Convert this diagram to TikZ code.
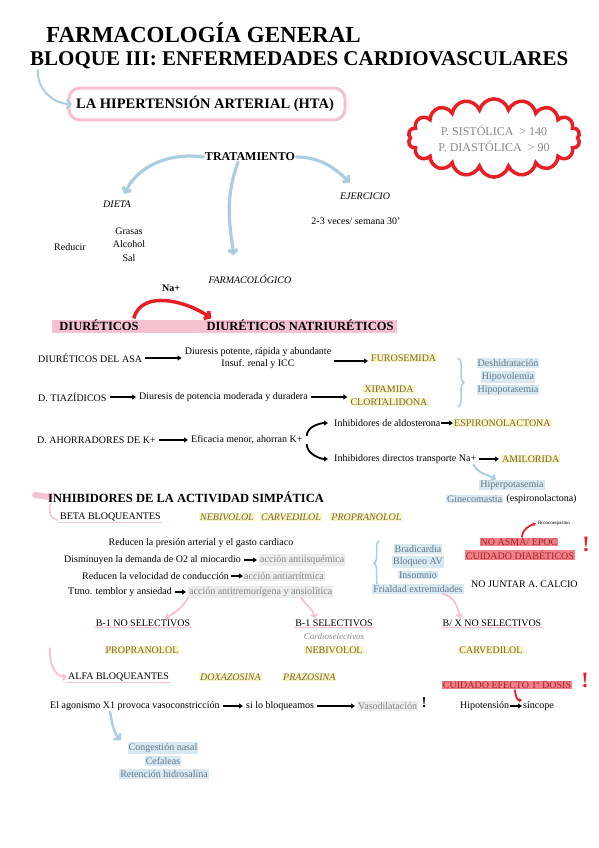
\documentclass[tikz,border=0pt]{standalone}
\usepackage{fontspec}
\setmainfont{Liberation Serif}
\usetikzlibrary{arrows.meta, positioning, calc, shapes.symbols, decorations.pathreplacing, backgrounds}

\definecolor{skyarrow}{RGB}{170,206,222}
\definecolor{pinkmark}{RGB}{246,194,210}
\definecolor{redmark}{RGB}{232,32,38}
\definecolor{yelhl}{RGB}{249,243,198}
\definecolor{drugtxt}{RGB}{115,105,55}
\definecolor{bluehl}{RGB}{216,233,241}
\definecolor{bluetxt}{RGB}{95,120,140}
\definecolor{grayhl}{RGB}{236,236,236}
\definecolor{graytxt}{RGB}{135,135,135}
\definecolor{redhl}{RGB}{238,128,135}
\definecolor{redtxt}{RGB}{170,35,45}

\begin{document}
\begin{tikzpicture}[x=1pt, y=1pt,
    txt/.style={font=\fontsize{10}{13}\selectfont, inner sep=1pt},
    sub/.style={txt, font=\itshape\fontsize{10}{13}\selectfont},
    head/.style={font=\bfseries\fontsize{12.5}{14}\selectfont, inner sep=1pt},
    title/.style={font=\bfseries\fontsize{21}{23}\selectfont, inner sep=1pt},
    drug/.style={txt, fill=yelhl, text=drugtxt},
    drugit/.style={drug, font=\itshape\fontsize{10}{13}\selectfont},
    sidefx/.style={txt, fill=bluehl, text=bluetxt},
    action/.style={txt, fill=grayhl, text=graytxt},
    alert/.style={txt, fill=redhl, text=redtxt},
    bang/.style={text=redmark, font=\bfseries\fontsize{22}{22}\selectfont, inner sep=0pt},
    blk/.style={-{Triangle[length=4pt,width=5pt]}, line width=1.8pt, shorten <=2pt, shorten >=2pt},
    sky/.style={skyarrow, line width=3.2pt, line cap=round, -{Straight Barb[length=4pt,width=9pt]}},
    redarr/.style={redmark, line width=1.8pt, -{Triangle[length=3pt,width=4pt]}},
    pinkarr/.style={pinkmark, line width=1.8pt, line cap=round, -{Straight Barb[length=3pt,width=6pt]}},
    uline/.style={pinkmark, line width=1.5pt, line cap=round}]
  \useasboundingbox (0,0) rectangle (599,-848);

  % Title
  \node[title, anchor=west, font=\bfseries\fontsize{23}{25}\selectfont] (title1) at (45,-33) {FARMACOLOGÍA GENERAL};
  \node[title, anchor=west] (title2) at (29,-60) {BLOQUE III: ENFERMEDADES CARDIOVASCULARES};
  \node[head, font=\bfseries\fontsize{14.5}{16}\selectfont] (hta) at (205,-104) {LA HIPERTENSIÓN ARTERIAL (HTA)};
  \draw[sky, line width=2pt] ([xshift=9pt]title2.south west) to[out=-95,in=180] ([xshift=-3pt]hta.west);
  \begin{scope}[on background layer]
    \draw[pinkmark, line width=3pt, rounded corners=11pt] ($(hta.south west)+(-6,-7)$) rectangle ($(hta.north east)+(10,7)$);
  \end{scope}

  % Pressure cloud
  \node[cloud, draw=redmark, line width=3.5pt, cloud puffs=18, aspect=2.7, inner sep=0pt,
        minimum width=172pt, minimum height=70pt, text=graytxt, align=center,
        font=\fontsize{12}{16}\selectfont] (press) at (494,-138) {P. SISTÓLICA \ > 140\\P. DIASTÓLICA \ > 90};

  % Treatment
  \node[head, font=\bfseries\fontsize{12}{14}\selectfont] (trat) at (250,-157) {TRATAMIENTO};
  \node[sub] (dieta) at (117,-204) {DIETA};
  \node[txt, align=center, font=\fontsize{10}{13.5}\selectfont] (foods) at (129,-244.5) {Grasas\\Alcohol\\Sal};
  \node[txt, anchor=east] (reduc) at (87,-247) {Reducir};
  \node[sub] (ejer) at (365,-196) {EJERCICIO};
  \node[txt] (veces) at (356,-221) {2-3 veces/ semana 30'};
  \node[sub] (farm) at (250,-279) {FARMACOLÓGICO};
  \draw[sky, shorten >=6pt] (trat.west) to[out=172,in=65] ([xshift=5pt]dieta.north);
  \draw[sky, shorten >=18pt] ([xshift=-12pt]trat.south) to[out=-110,in=95] ([xshift=-15pt]farm.north);
  \draw[sky, shorten >=14pt] (trat.east) to[out=0,in=140] ([xshift=-4pt]ejer.north);

  % Diuretics
  \node[head, font=\bfseries\fontsize{10}{12}\selectfont] (nap) at (171,-288) {Na+};
  \node[head] (diur) at (99,-325) {DIURÉTICOS};
  \node[head] (natr) at (300,-325) {DIURÉTICOS NATRIURÉTICOS};
  \begin{scope}[on background layer]
    \fill[pinkmark] ([xshift=-6pt,yshift=-1pt]diur.south west) rectangle ([xshift=2pt,yshift=-2pt]natr.north east);
  \end{scope}
  \draw[redmark, line width=3.5pt, -{Straight Barb[length=4pt,width=9pt]}] ([xshift=-6pt]diur.north east) to[out=75,in=145] ([xshift=6pt]natr.north west);

  \node[txt, anchor=west] (asa) at (37,-358) {DIURÉTICOS DEL ASA};
  \node[txt, align=center, font=\fontsize{10}{12}\selectfont] (asad) at (258,-358) {Diuresis potente, rápida y abundante\\Insuf. renal y ICC};
  \node[drug, anchor=west] (furo) at (370,-358) {FUROSEMIDA};
  \draw[blk] (asa.east) -- (asa.east -| asad.west);
  \draw[blk] ([yshift=-3pt]asad.east) -- ([yshift=-3pt]asad.east -| furo.west);

  \node[txt, anchor=west] (tiaz) at (37,-397) {D. TIAZÍDICOS};
  \node[txt, anchor=west] (tiazd) at (138,-397) {Diuresis de potencia moderada y duradera};
  \node[drug] (xipa) at (389,-389) {XIPAMIDA};
  \node[drug] (clorta) at (389,-402) {CLORTALIDONA};
  \draw[blk] (tiaz) -- (tiazd);
  \draw[blk] (tiazd.east) -- (tiazd.east -| clorta.west);

  \draw[skyarrow, line width=1.5pt, decorate, decoration={brace, amplitude=6pt}] (458,-358) -- (458,-407);
  \node[sidefx] (deshid) at (508,-363) {Deshidratación};
  \node[sidefx] (hipovol) at (508,-377) {Hipovolemia};
  \node[sidefx] (hipopot) at (508,-390) {Hipopotasemia};

  \node[txt, anchor=west] (ahorr) at (36,-440) {D. AHORRADORES DE K+};
  \node[txt, anchor=west] (efic) at (190,-440) {Eficacia menor, ahorran K+};
  \node[txt, anchor=west] (aldo) at (333,-423) {Inhibidores de aldosterona};
  \node[drug, anchor=west] (espiro) at (453,-423) {ESPIRONOLACTONA};
  \node[txt, anchor=west] (dirna) at (333,-459) {Inhibidores directos transporte Na+};
  \node[drug, anchor=west] (amilo) at (501,-459) {AMILORIDA};
  \draw[blk] (ahorr) -- (efic);
  \draw[blk, shorten <=0pt, shorten >=0pt] (aldo) -- (espiro);
  \draw[blk] (dirna) -- (amilo);
  \draw[blk, shorten >=5pt] ([xshift=3pt,yshift=2pt]efic.east) to[out=90,in=180] (aldo.west);
  \draw[blk, shorten >=5pt] ([xshift=3pt,yshift=-2pt]efic.east) to[out=-90,in=180] (dirna.west);

  \node[sidefx] (hiperk) at (512,-485) {Hiperpotasemia};
  \node[sidefx, anchor=west] (gineco) at (446,-499) {Ginecomastia};
  \node[txt, right=2pt of gineco] (espiro2) {(espironolactona)};
  \draw[sky, line width=2pt, -{Straight Barb[length=3pt,width=6pt]}] ([xshift=-4pt]dirna.south east) to[out=-60,in=150] ([xshift=-16pt]hiperk.north);

  % Sympathetic inhibitors
  \node[head, anchor=west] (inhib) at (47,-497) {INHIBIDORES DE LA ACTIVIDAD SIMPÁTICA};
  \begin{scope}[on background layer]
    \draw[pinkmark, line width=6pt, line cap=round] ([xshift=-12pt,yshift=2pt]inhib.west) -- ([xshift=3pt]inhib.west);
  \end{scope}
  \node[txt, anchor=west] (beta) at (59,-517) {BETA BLOQUEANTES};
  \draw[uline] ([xshift=4pt]inhib.south west) to[out=-120,in=175] ([xshift=-2pt,yshift=-3pt]beta.west);
  \node[drugit, anchor=west] (nebi) at (199,-517) {NEBIVOLOL};
  \node[drugit, right=5pt of nebi] (carve) {CARVEDILOL};
  \node[drugit, right=8pt of carve] (propra) {PROPRANOLOL};

  \node[txt] (redpa) at (201,-543) {Reducen la presión arterial y el gasto cardiaco};
  \node[txt, anchor=east] (oxig) at (242,-560) {Disminuyen la demanda de O2 al miocardio};
  \node[action, anchor=west] (antiisq) at (259,-560) {acción antiisquémica};
  \node[txt, anchor=east] (veloc) at (230,-576) {Reducen la velocidad de conducción};
  \node[action, anchor=west] (antiarr) at (243,-576) {acción antiarrítmica};
  \node[txt, anchor=east] (ttmo) at (173,-592) {Ttmo. temblor y ansiedad};
  \node[action, anchor=west] (antitrem) at (188,-592) {acción antitremorígena y ansiolítica};
  \draw[blk] (oxig) -- (antiisq);
  \draw[blk, shorten <=1pt, shorten >=0pt] (veloc) -- (antiarr);
  \draw[blk] (ttmo) -- (antitrem);

  \draw[skyarrow, line width=1.5pt, decorate, decoration={brace, amplitude=5pt}] (379,-586) -- (379,-541);
  \node[sidefx] (bradi) at (418,-549) {Bradicardia};
  \node[sidefx] (bloqav) at (418,-562) {Bloqueo AV};
  \node[sidefx] (insom) at (418,-575) {Insomnio};
  \node[sidefx] (frial) at (418,-589) {Frialdad extremidades};
  \node[txt, anchor=west] (nojunt) at (470,-584) {NO JUNTAR A. CALCIO};

  \node[alert] (noasma) at (519,-542) {NO ASMA/ EPOC};
  \node[alert] (diab) at (520,-555) {CUIDADO DIABÉTICOS};
  \node[txt, font=\fontsize{5}{6}\selectfont] (bronco) at (554,-523) {Broncoespasmo};
  \node[bang] (bang1) at (586,-544) {!};
  \draw[redarr, shorten >=1pt] ([xshift=3pt]noasma.north) to[out=90,in=200] (bronco.west);

  % Beta subtypes
  \node[txt] (b1no) at (143,-623) {B-1 NO SELECTIVOS};
  \node[txt] (b1sel) at (334,-623) {B-1 SELECTIVOS};
  \node[sub, text=graytxt, font=\itshape\fontsize{9}{11}\selectfont] (cardsel) at (334,-636) {Cardioselectivos};
  \node[txt] (bxno) at (492,-623) {B/ X NO SELECTIVOS};
  \node[drug] (propra2) at (142,-650) {PROPRANOLOL};
  \node[drug] (nebi2) at (334,-650) {NEBIVOLOL};
  \node[drug] (carve2) at (491,-650) {CARVEDILOL};
  \draw[pinkarr] (antitrem.south west) to[out=-120,in=30] ([xshift=22pt]b1no.north);
  \draw[pinkarr] ([xshift=-32pt]antitrem.south east) to[out=-60,in=100] ([xshift=-19pt]b1sel.north);
  \draw[pinkarr] ([xshift=24pt]frial.south) to[out=-10,in=100] ([xshift=-32pt]bxno.north);

  % Alpha blockers
  \coordinate (alfastart) at (50,-648);
  \node[txt, anchor=west] (alfa) at (67,-677) {ALFA BLOQUEANTES};
  \node[drugit, anchor=west] (doxa) at (199,-677) {DOXAZOSINA};
  \node[drugit, anchor=west] (prazo) at (282,-677) {PRAZOSINA};
  \draw[pinkarr] (alfastart) to[out=-95,in=180] (alfa.west);
  \foreach \n in {beta, b1no, b1sel, bxno, alfa}
    \draw[uline] (\n.south west) -- (\n.south east);

  \node[alert] (efecto) at (507,-685) {CUIDADO EFECTO 1º DOSIS};
  \node[bang] (bang2) at (585,-680) {!};
  \node[txt, anchor=west] (hipot) at (459,-706) {Hipotensión};
  \node[txt, anchor=west] (sincope) at (522,-706) {síncope};
  \draw[blk, shorten <=0pt, shorten >=0pt] (hipot) -- (sincope);
  \draw[redarr] ([xshift=8pt]efecto.south) to[out=-90,in=180] (sincope.north west);

  \node[txt, anchor=west] (agon) at (49,-706) {El agonismo X1 provoca vasoconstricción};
  \node[txt, anchor=west] (bloq) at (245,-706) {si lo bloqueamos};
  \node[action, anchor=west] (vasod) at (357,-706) {Vasodilatación};
  \node[bang, text=black, font=\bfseries\fontsize{15}{15}\selectfont] (bang3) at (424,-703) {!};
  \draw[blk] (agon) -- (bloq);
  \draw[blk] (bloq) -- (vasod);

  \node[sidefx] (conges) at (163,-748) {Congestión nasal};
  \node[sidefx] (cefal) at (163,-761) {Cefaleas};
  \node[sidefx] (reten) at (164,-774) {Retención hidrosalina};
  \draw[sky, line width=2.5pt, shorten >=3pt] ([xshift=61pt]agon.south west) to[out=-80,in=135] ([xshift=-40pt]conges.north);
\end{tikzpicture}
\end{document}
